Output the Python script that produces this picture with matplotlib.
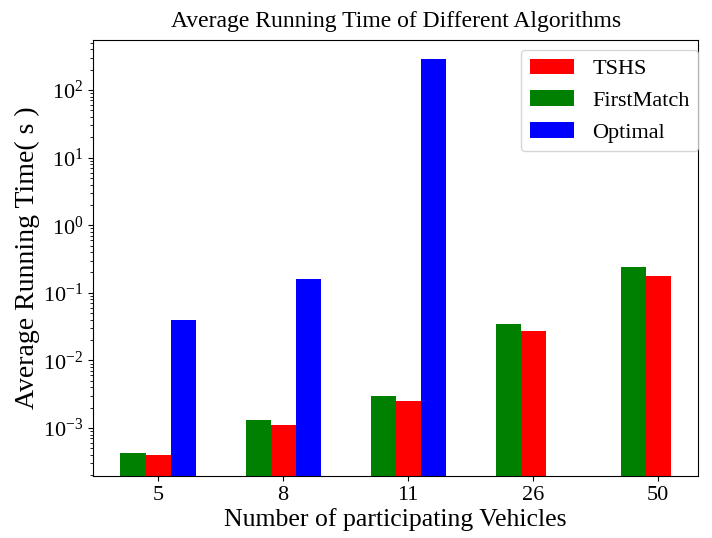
import matplotlib
matplotlib.use("Agg")
import matplotlib.pyplot as plt
import numpy as np

# data (seconds, log scale)
vehicles = ['5', '8', '11', '26', '50']
tshs = [4.0e-4, 1.1e-3, 2.5e-3, 0.027, 0.175]
first_match = [4.2e-4, 1.3e-3, 3.0e-3, 0.035, 0.243]
optimal = [0.040, 0.16, 290, np.nan, np.nan]

plt.rcParams['font.family'] = ['Liberation Serif', 'DejaVu Serif']
plt.rcParams['mathtext.fontset'] = 'stix'

fig = plt.figure(figsize=(7.12, 5.38), dpi=100)
ax = fig.add_axes([0.1306, 0.1152, 0.850, 0.8105])

x = np.arange(len(vehicles))
w = 0.2

ax.bar(x, tshs, w, color='red', label='TSHS')
ax.bar(x - w, first_match, w, color='green', label='FirstMatch')
ax.bar(x + w, optimal, w, color='blue', label='Optimal')

ax.set_yscale('log')
ax.set_ylim(1.95e-4, 550)
ax.set_xlim(-0.52, 4.32)
ax.set_xticks(x)
ax.set_xticklabels(vehicles)
ax.tick_params(axis='both', labelsize=16)

ax.set_title('Average Running Time of Different Algorithms', fontsize=17, pad=9)
ax.set_xlabel('Number of participating Vehicles', fontsize=18.5, labelpad=2)
ax.set_ylabel('Average Running Time( s )', fontsize=20, labelpad=2)
ax.legend(loc='upper right', fontsize=16, bbox_to_anchor=(1.015, 0.998),
          borderaxespad=0.4)

plt.savefig('out.png', dpi=100)
